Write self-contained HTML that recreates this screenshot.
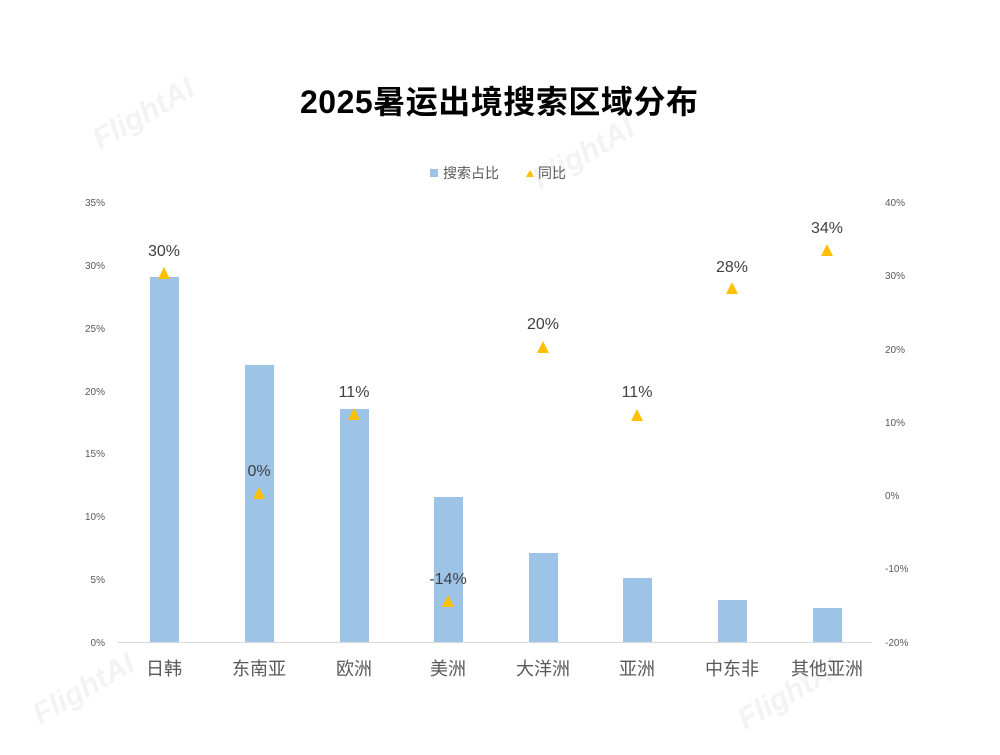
<!DOCTYPE html>
<html><head><meta charset="utf-8"><style>
body{margin:0;background:#fff;}
svg text{font-family:"Liberation Sans","Noto Sans CJK SC",sans-serif;}
</style></head><body>
<svg width="1000" height="750" viewBox="0 0 1000 750">
<rect width="1000" height="750" fill="#fff"/>
<g fill="#f3f3f3" font-size="30" font-weight="bold" font-style="italic">
<text transform="translate(100,150) rotate(-30)">FlightAI</text>
<text transform="translate(540,190) rotate(-30)">FlightAI</text>
<text transform="translate(40,725) rotate(-30)">FlightAI</text>
<text transform="translate(745,730) rotate(-30)">FlightAI</text>
</g>
<text x="499" y="113" text-anchor="middle" font-size="32" font-weight="bold" fill="#000" textLength="398">2025暑运出境搜索区域分布</text>
<rect x="430" y="169" width="8" height="8" fill="#9dc3e6"/>
<text x="443" y="178" font-size="14" fill="#595959">搜索占比</text>
<polygon points="526,177 534,177 530,170" fill="#ffc000"/>
<text x="538" y="178" font-size="14" fill="#595959">同比</text>
<g font-size="10" fill="#595959" text-anchor="end">
<text x="105" y="206">35%</text><text x="105" y="269">30%</text><text x="105" y="332">25%</text>
<text x="105" y="395">20%</text><text x="105" y="457">15%</text><text x="105" y="520">10%</text>
<text x="105" y="583">5%</text><text x="105" y="646">0%</text>
</g>
<g font-size="10" fill="#595959">
<text x="885" y="206">40%</text><text x="885" y="279">30%</text><text x="885" y="353">20%</text>
<text x="885" y="426">10%</text><text x="885" y="499">0%</text><text x="885" y="572">-10%</text>
<text x="885" y="646">-20%</text>
</g>
<line x1="118" y1="642.5" x2="872" y2="642.5" stroke="#d9d9d9" stroke-width="1"/>
<g fill="#9dc3e6">
<rect x="150" y="277" width="29" height="365"/>
<rect x="245" y="365" width="29" height="277"/>
<rect x="340" y="409" width="29" height="233"/>
<rect x="434" y="497" width="29" height="145"/>
<rect x="529" y="553" width="29" height="89"/>
<rect x="623" y="578" width="29" height="64"/>
<rect x="718" y="600" width="29" height="42"/>
<rect x="813" y="608" width="29" height="34"/>
</g>
<g fill="#ffc000">
<polygon points="158,279 170,279 164,267"/>
<polygon points="253,499 265,499 259,487"/>
<polygon points="348,420 360,420 354,408"/>
<polygon points="442,607 454,607 448,595"/>
<polygon points="537,353 549,353 543,341"/>
<polygon points="631,421 643,421 637,409"/>
<polygon points="726,294 738,294 732,282"/>
<polygon points="821,256 833,256 827,244"/>
</g>
<g font-size="16" fill="#404040" text-anchor="middle">
<text x="164" y="256">30%</text><text x="259" y="476">0%</text><text x="354" y="397">11%</text>
<text x="448" y="584">-14%</text><text x="543" y="329">20%</text><text x="637" y="397">11%</text>
<text x="732" y="272">28%</text><text x="827" y="233">34%</text>
</g>
<g font-size="18" fill="#595959" text-anchor="middle">
<text x="164" y="675">日韩</text><text x="259" y="675">东南亚</text><text x="354" y="675">欧洲</text>
<text x="448" y="675">美洲</text><text x="543" y="675">大洋洲</text><text x="637" y="675">亚洲</text>
<text x="732" y="675">中东非</text><text x="827" y="675">其他亚洲</text>
</g>
</svg>
</body></html>
